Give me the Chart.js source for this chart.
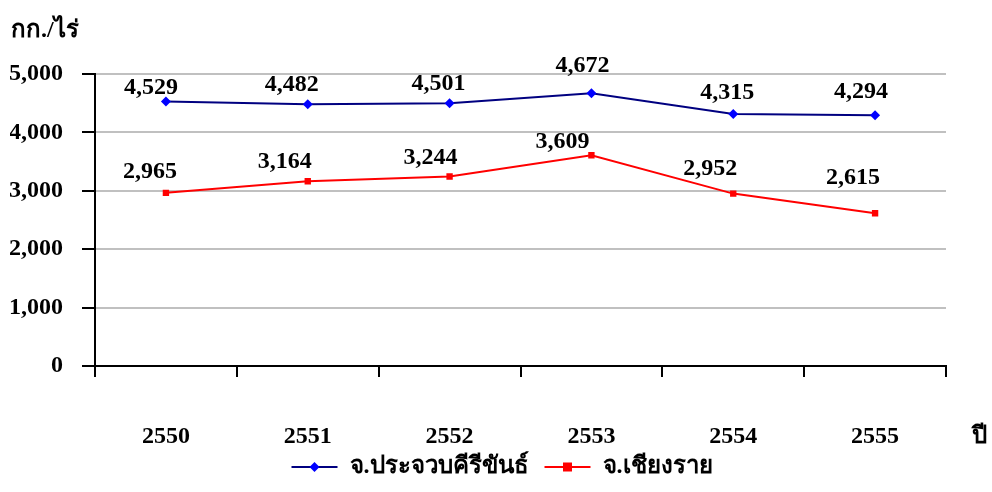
<!DOCTYPE html>
<html>
<head>
<meta charset="utf-8">
<script src="https://cdn.jsdelivr.net/npm/chart.js@4"></script>
<style>
  html, body { margin: 0; padding: 0; background: #fff; }
  #wrap { width: 992px; height: 492px; }
</style>
</head>
<body>
<div id="wrap"><canvas id="grafico" width="992" height="492"></canvas></div>
<script>
const anos = ['2550', '2551', '2552', '2553', '2554', '2555'];
const prachuap = [4529, 4482, 4501, 4672, 4315, 4294];
const chiangRai = [2965, 3164, 3244, 3609, 2952, 2615];
const nomeSeries = ['จ.ประจวบคีรีขันธ์', 'จ.เชียงราย'];
const tituloY = 'กก./ไร่';
const tituloX = 'ปี';

// where each value label sits relative to its point (dx, dy above), as in the original
const deslocRotulos = [
    [[-15, 8], [-16, 13], [-11, 13], [-9, 21], [-6, 15], [-14, 17]],
    [[-16, 15], [-23, 13], [-19, 13], [-29, 7], [-23, 19], [-22, 29]]
];

const fonte = '"Liberation Serif", "Times New Roman", "DejaVu Serif", serif';
const formatar = v => v.toLocaleString('en-US');

function desenhaMarcador(ctx, tipo, x, y, cor) {
    ctx.fillStyle = cor;
    if (tipo === 'rectRot') {
        ctx.beginPath();
        ctx.moveTo(x, y - 5); ctx.lineTo(x + 5, y); ctx.lineTo(x, y + 5); ctx.lineTo(x - 5, y);
        ctx.closePath();
        ctx.fill();
    } else {
        ctx.fillRect(x - 4.5, y - 4.5, 9, 9);
    }
}

const extras = {
    id: 'extras',
    afterDatasetsDraw(chart) {
        const ctx = chart.ctx;
        const area = chart.chartArea;
        ctx.save();
        ctx.font = 'bold 24px ' + fonte;
        ctx.fillStyle = '#000';
        ctx.textAlign = 'center';
        ctx.textBaseline = 'alphabetic';
        chart.data.datasets.forEach((ds, i) => {
            chart.getDatasetMeta(i).data.forEach((pt, j) => {
                const d = deslocRotulos[i][j];
                ctx.fillText(formatar(ds.data[j]), pt.x + d[0], pt.y - d[1]);
            });
        });

        // axis titles
        ctx.textAlign = 'left';
        ctx.textBaseline = 'middle';
        ctx.fillText(tituloY, 11, 31);
        ctx.fillText(tituloX, area.right + 26, 437);

        // legend: line + marker + name
        const larguraLinha = 46, gapTexto = 12, gapItem = 16;
        const larguras = chart.data.datasets.map(ds => larguraLinha + gapTexto + ctx.measureText(ds.label).width);
        const total = larguras.reduce((a, b) => a + b, 0) + gapItem * (larguras.length - 1);
        let x = 502 - total / 2;
        const y = 467;
        chart.data.datasets.forEach((ds, i) => {
            ctx.strokeStyle = ds.borderColor;
            ctx.lineWidth = 2;
            ctx.beginPath();
            ctx.moveTo(x, y); ctx.lineTo(x + larguraLinha, y);
            ctx.stroke();
            desenhaMarcador(ctx, ds.pointStyle, x + larguraLinha / 2, y, ds.backgroundColor);
            ctx.fillStyle = '#000';
            ctx.fillText(ds.label, x + larguraLinha + gapTexto, y);
            x += larguras[i] + gapItem;
        });
        ctx.restore();
    }
};

new Chart(document.getElementById('grafico').getContext('2d'), {
    type: 'line',
    data: {
        labels: anos,
        datasets: [
            {
                label: nomeSeries[0],
                data: prachuap,
                borderColor: '#000080',
                backgroundColor: '#0000ff',
                borderWidth: 2,
                pointStyle: 'rectRot',
                pointRadius: 5,
                pointBorderWidth: 0,
                tension: 0
            },
            {
                label: nomeSeries[1],
                data: chiangRai,
                borderColor: '#ff0000',
                backgroundColor: '#ff0000',
                borderWidth: 2,
                pointStyle: 'rect',
                pointRadius: 4.5,
                pointBorderWidth: 0,
                tension: 0
            }
        ]
    },
    options: {
        responsive: false,
        animation: false,
        layout: { padding: { left: 10, right: 46, top: 74, bottom: 0 } },
        plugins: {
            tooltip: { enabled: false },
            legend: { display: false }
        },
        scales: {
            x: {
                offset: true,
                afterFit: s => { s.height = 126; },
                border: { color: '#000', width: 2 },
                grid: {
                    drawOnChartArea: false,
                    offset: true,
                    tickLength: 11,
                    tickColor: '#000',
                    lineWidth: 2
                },
                ticks: {
                    color: '#000',
                    padding: 45,
                    maxRotation: 0,
                    font: { family: fonte, size: 24, weight: 'bold' }
                }
            },
            y: {
                min: 0,
                max: 5000,
                afterFit: s => { s.width = 85; },
                border: { color: '#000', width: 2 },
                grid: {
                    color: '#c0c0c0',
                    lineWidth: 2,
                    tickLength: 13,
                    tickColor: '#000'
                },
                ticks: {
                    stepSize: 1000,
                    color: '#000',
                    padding: 19,
                    callback: v => formatar(v),
                    font: { family: fonte, size: 24, weight: 'bold' }
                }
            }
        }
    },
    plugins: [extras]
});
</script>
</body>
</html>
